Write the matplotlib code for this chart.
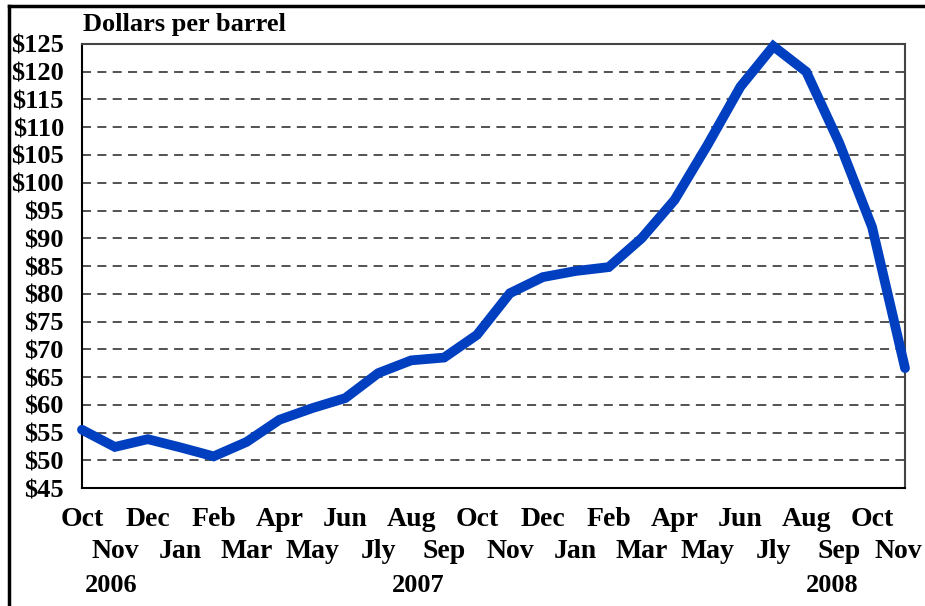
import matplotlib.pyplot as plt
from matplotlib.lines import Line2D
from matplotlib import transforms

plt.rcParams['font.family'] = ['Liberation Serif', 'DejaVu Serif']
plt.rcParams['font.weight'] = 'bold'

months = ['Oct', 'Nov', 'Dec', 'Jan', 'Feb', 'Mar', 'Apr', 'May', 'Jun', 'Jly',
          'Aug', 'Sep', 'Oct', 'Nov', 'Dec', 'Jan', 'Feb', 'Mar', 'Apr', 'May',
          'Jun', 'Jly', 'Aug', 'Sep', 'Oct', 'Nov']
price = [55.5, 52.4, 53.8, 52.3, 50.7, 53.3, 57.3, 59.4, 61.2, 65.7,
         68.0, 68.5, 72.6, 80.1, 83.0, 84.1, 84.8, 90.0, 96.9, 106.8,
         117.3, 124.6, 120.0, 107.2, 92.0, 66.6]
years = ['2006', '2007', '2008']
y_ticks = list(range(45, 130, 5))

fig = plt.figure(figsize=(9.25, 6.06), dpi=100)
ax = fig.add_axes([0.0886, 0.1947, 0.8898, 0.7327])

x = list(range(len(price)))
ax.plot(x, price, color='#0040c0', lw=7, solid_joinstyle='miter',
        solid_capstyle='round', clip_on=False, zorder=3)

ax.set_xlim(0, len(price) - 1)
ax.set_ylim(45, 125)
ax.set_yticks(y_ticks)
ax.set_yticklabels(['$%d' % v for v in y_ticks], fontsize=19, fontweight='bold')
ax.tick_params(axis='y', length=0, pad=13)
ax.set_xticks([])

# dashed grid lines
for v in y_ticks[1:-1]:
    ax.axhline(v, color='#444444', lw=1.3, dashes=(5, 3.5), zorder=1)

for side in ['left', 'bottom']:
    ax.spines[side].set_color('black')
    ax.spines[side].set_linewidth(1.5)
for side in ['top', 'right']:
    ax.spines[side].set_color('#444444')
    ax.spines[side].set_linewidth(1.5)

# month labels in two staggered rows
trans = transforms.blended_transform_factory(ax.transData, fig.transFigure)
for i, m in enumerate(months):
    yrow = 1 - 520 / 606 if i % 2 == 0 else 1 - 551 / 606
    if i == len(months) - 1:
        # last label sits against the right edge of the picture
        fig.text(0.997, yrow, m, ha='right', va='center',
                 fontsize=20, fontweight='bold')
    else:
        ax.text(i, yrow, m, transform=trans, ha='center', va='center',
                fontsize=20, fontweight='bold')

for label, pos in zip(years, [0.9, 10.2, 22.8]):
    ax.text(pos, 1 - 586 / 606, label, transform=trans, ha='center',
            va='center', fontsize=19, fontweight='bold')

fig.text(83 / 925, 1 - 24 / 606, 'Dollars per barrel', ha='left', va='center',
         fontsize=19, fontweight='bold')

# outer frame (top and left edges)
fig.add_artist(Line2D([9 / 925, 1], [1 - 6 / 606, 1 - 6 / 606], color='black',
                      lw=2.5, transform=fig.transFigure))
fig.add_artist(Line2D([9 / 925, 9 / 925], [0, 1 - 6 / 606], color='black',
                      lw=2.5, transform=fig.transFigure))

fig.savefig('out.png', dpi=100)
